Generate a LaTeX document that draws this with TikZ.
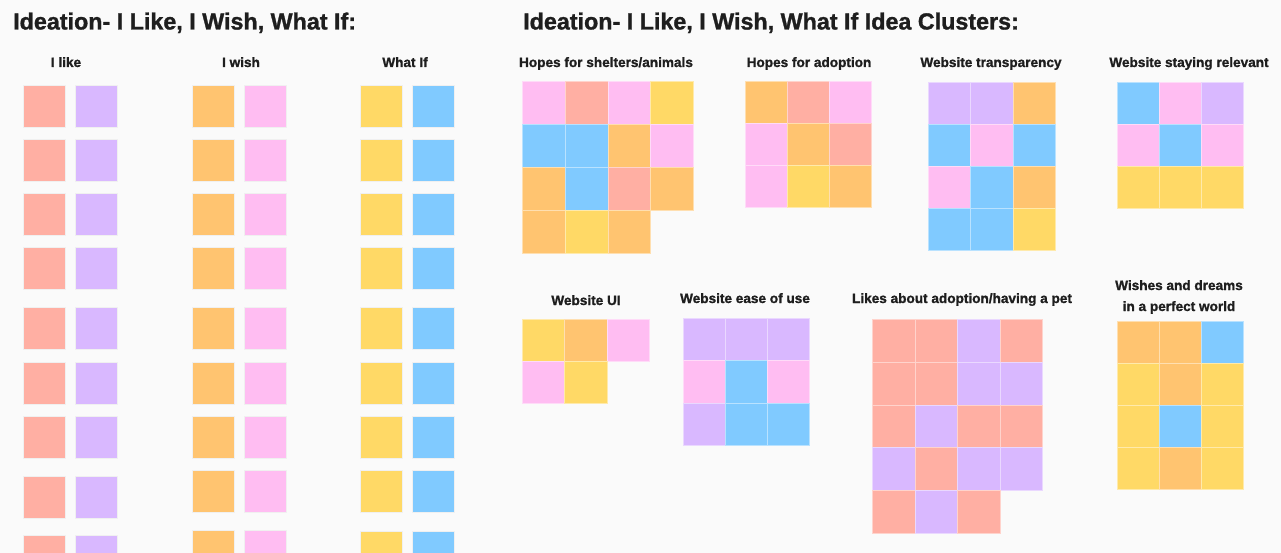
\documentclass[tikz,border=0pt]{standalone}
\usepackage{fontspec}
\setmainfont{Liberation Sans}
\newfontfamily\headfont[FakeBold=1.2]{Liberation Sans Bold}
\definecolor{bg}{HTML}{FAFAFA}
\definecolor{sred}{HTML}{FFAFA3}
\definecolor{sorange}{HTML}{FFC470}
\definecolor{syellow}{HTML}{FFD966}
\definecolor{sblue}{HTML}{80CAFF}
\definecolor{sviolet}{HTML}{D9B8FF}
\definecolor{spink}{HTML}{FFBDF2}
\definecolor{ink}{HTML}{1E1E1E}
\begin{document}
\begin{tikzpicture}[x=1pt,y=-1pt,
  title/.style={anchor=base west, inner sep=0, font=\fontsize{23.3}{28}\headfont, text=ink},
  head/.style={anchor=base, inner sep=0, font=\fontsize{13.6}{16}\headfont, text=ink},
  note/.style={anchor=north west, inner sep=0, minimum width=42pt, minimum height=42pt, fill=#1, draw=black!6, line width=0.3pt},
  cell/.style={anchor=north west, inner sep=0, fill=#1, draw=white!45!#1, line width=0.25pt}]
\path[fill=bg] (0,0) rectangle (1281,553);
\useasboundingbox (0,0) rectangle (1281,553);
\clip (0,0) rectangle (1281,553);

% ---------- titles ----------
\node[title] (t1) at (13,29.5) {Ideation- I Like, I Wish, What If:};
\node[title] (t2) at (523,29.5) {Ideation- I Like, I Wish, What If Idea Clusters:};

% ---------- left board ----------
\node[head] (hlike) at (66,67) {I like};
\node[head] (hwish) at (241,67) {I wish};
\node[head] (hwhat) at (405,67) {What If};

\foreach \y [count=\i] in {85,139,193,247,307,362,416,476,535} {
  \node[note=sred] (like-a-\i) at (23,\y) {};
  \node[note=sviolet] (like-b-\i) at (75,\y) {};
}
\foreach \y [count=\i] in {85,139,193,247,307,362,416,470,530} {
  \node[note=sorange] (wish-a-\i) at (192,\y) {};
  \node[note=spink] (wish-b-\i) at (244,\y) {};
}
\foreach \y [count=\i] in {85,139,193,247,307,362,416,470,531} {
  \node[note=syellow] (what-a-\i) at (360,\y) {};
  \node[note=sblue] (what-b-\i) at (412,\y) {};
}

% ---------- clusters ----------
\node[head] (hshel) at (606,67) {Hopes for shelters/animals};
\foreach \c/\r/\col [count=\k] in {0/0/spink,1/0/sred,2/0/spink,3/0/syellow,
    0/1/sblue,1/1/sblue,2/1/sorange,3/1/spink,
    0/2/sorange,1/2/sblue,2/2/sred,3/2/sorange,
    0/3/sorange,1/3/syellow,2/3/sorange}
  \node[cell=\col, minimum width=42.75pt, minimum height=43pt] (shel-\k) at ({522+\c*42.75},{81+\r*43}) {};

\node[head] (hadopt) at (809,67) {Hopes for adoption};
\foreach \c/\r/\col [count=\k] in {0/0/sorange,1/0/sred,2/0/spink,
    0/1/spink,1/1/sorange,2/1/sred,
    0/2/spink,1/2/syellow,2/2/sorange}
  \node[cell=\col, minimum width=42pt, minimum height=42pt] (adopt-\k) at ({745+\c*42},{81+\r*42}) {};

\node[head] (htrans) at (991,67) {Website transparency};
\foreach \c/\r/\col [count=\k] in {0/0/sviolet,1/0/sviolet,2/0/sorange,
    0/1/sblue,1/1/spink,2/1/sblue,
    0/2/spink,1/2/sblue,2/2/sorange,
    0/3/sblue,1/3/sblue,2/3/syellow}
  \node[cell=\col, minimum width=42.33pt, minimum height=42pt] (trans-\k) at ({928+\c*42.33},{82+\r*42}) {};

\node[head] (hrel) at (1189,67) {Website staying relevant};
\foreach \c/\r/\col [count=\k] in {0/0/sblue,1/0/spink,2/0/sviolet,
    0/1/spink,1/1/sblue,2/1/spink,
    0/2/syellow,1/2/syellow,2/2/syellow}
  \node[cell=\col, minimum width=42pt, minimum height=42pt] (rel-\k) at ({1117+\c*42},{82+\r*42}) {};

\node[head] (hui) at (586,305) {Website UI};
\foreach \c/\r/\col [count=\k] in {0/0/syellow,1/0/sorange,2/0/spink,
    0/1/spink,1/1/syellow}
  \node[cell=\col, minimum width=42.33pt, minimum height=42pt] (ui-\k) at ({522+\c*42.33},{319+\r*42}) {};

\node[head] (hease) at (745,303) {Website ease of use};
\foreach \c/\r/\col [count=\k] in {0/0/sviolet,1/0/sviolet,2/0/sviolet,
    0/1/spink,1/1/sblue,2/1/spink,
    0/2/sviolet,1/2/sblue,2/2/sblue}
  \node[cell=\col, minimum width=42pt, minimum height=42.33pt] (ease-\k) at ({683+\c*42},{318+\r*42.33}) {};

\node[head] (hlikes) at (962,303) {Likes about adoption/having a pet};
\foreach \c/\r/\col [count=\k] in {0/0/sred,1/0/sred,2/0/sviolet,3/0/sred,
    0/1/sred,1/1/sred,2/1/sviolet,3/1/sviolet,
    0/2/sred,1/2/sviolet,2/2/sred,3/2/sred,
    0/3/sviolet,1/3/sred,2/3/sviolet,3/3/sviolet,
    0/4/sred,1/4/sviolet,2/4/sred}
  \node[cell=\col, minimum width=42.5pt, minimum height=42.8pt] (likes-\k) at ({872+\c*42.5},{319+\r*42.8}) {};

\node[head] (hwish1) at (1179,290) {Wishes and dreams};
\node[head] (hwish2) at (1179,311) {in a perfect world};
\foreach \c/\r/\col [count=\k] in {0/0/sorange,1/0/sorange,2/0/sblue,
    0/1/syellow,1/1/sorange,2/1/syellow,
    0/2/syellow,1/2/sblue,2/2/syellow,
    0/3/syellow,1/3/sorange,2/3/syellow}
  \node[cell=\col, minimum width=42pt, minimum height=42pt] (dream-\k) at ({1117+\c*42},{321+\r*42}) {};
\end{tikzpicture}
\end{document}
